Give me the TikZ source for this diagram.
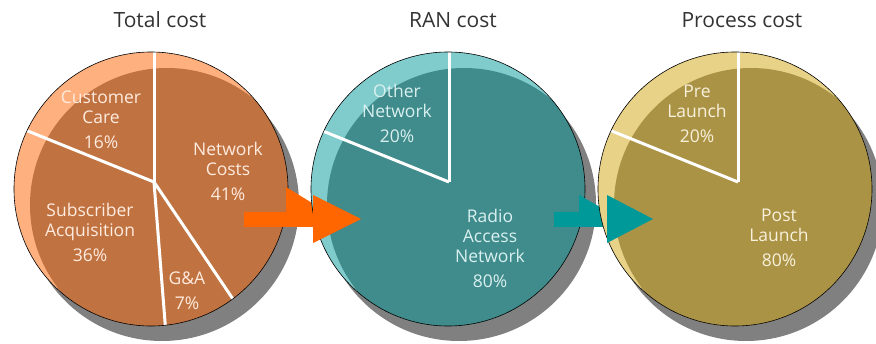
\documentclass[tikz,border=0pt]{standalone}
\usepackage{fontspec}
\setmainfont{Open Sans}
\usepackage{tikz}
\usetikzlibrary{calc}
\definecolor{totlight}{HTML}{FFB07F}
\definecolor{totdark}{HTML}{C07341}
\definecolor{ranlight}{HTML}{80CCCC}
\definecolor{randark}{HTML}{408B8B}
\definecolor{prclight}{HTML}{E8D288}
\definecolor{prcdark}{HTML}{AB9346}
\definecolor{shadc}{HTML}{808080}
\definecolor{orangec}{HTML}{FF6600}
\definecolor{tealc}{HTML}{009999}
\definecolor{titlec}{HTML}{333333}
\tikzset{
  spoke/.style={white,line width=3pt},
  rim/.style={draw=black,line width=0.6pt},
  ttl/.style={font=\fontsize{21}{24}\selectfont,text=titlec},
  lbl/.style={align=center,font=\fontsize{17.5}{20}\selectfont,inner sep=0pt}
}
% shadow, light rim, darker face; #1 centre, #2 light, #3 dark
\newcommand{\pieface}[3]{%
  \fill[shadc] ($(#1)+(11,-15)$) circle (137);
  \fill[#2] (#1) circle (137);
  \begin{scope}
    \clip (#1) circle (137);
    \fill[#3] ($(#1)+(16,-16)$) circle (137);
  \end{scope}
}

\begin{document}
\begin{tikzpicture}[x=1pt,y=1pt]
\useasboundingbox (0,0) rectangle (876,343);
\coordinate (tot) at (151,154);
\coordinate (ran) at (448,154);
\coordinate (prc) at (735,154);
\coordinate (totc) at (154,161);
\coordinate (ranc) at (449,161);
\coordinate (prcc) at (738,161);
% total cost
\pieface{tot}{totlight}{totdark}
\begin{scope}
  \clip (tot) circle (137);
  \draw[spoke] (totc) -- ++(90:200);
  \draw[spoke] (totc) -- ++(158:200);
  \draw[spoke] (totc) -- ++(-85.5:200);
  \draw[spoke] (totc) -- ++(-56:200);
\end{scope}
\draw[rim] (tot) circle (137);
\node[ttl] (tottitle) at (160,323) {Total cost};
\node[lbl,text=totlight!25!white] (care) at (101,223.5) {Customer\\Care\\[5pt]16\%};
\node[lbl,text=totlight!25!white] (netw) at (228,172) {Network\\Costs\\[5pt]41\%};
\node[lbl,text=totlight!25!white] (subs) at (90,110.5) {Subscriber\\Acquisition\\[5pt]36\%};
\node[lbl,text=totlight!25!white] (gna) at (187,52) {G\&A\\[5pt]7\%};
% first arrow
\fill[orangec] (244,131) -- (286,131) -- (286,156) -- (339,123.5) -- (339,116) -- (244,116) -- cycle;
% RAN cost
\pieface{ran}{ranlight}{randark}
\begin{scope}
  \clip (ran) circle (137);
  \draw[spoke] (ranc) -- ++(90:200);
  \draw[spoke] (ranc) -- ++(158:200);
\end{scope}
\draw[rim] (ran) circle (137);
\fill[orangec] (313,148) -- (361,124) -- (313,100) -- cycle;
\node[ttl] (rantitle) at (453,323) {RAN cost};
\node[lbl,text=ranlight!30!white] (other) at (397,229.5) {Other\\Network\\[5pt]20\%};
\node[lbl,text=ranlight!30!white] (radio) at (490,95) {Radio\\Access\\Network\\[5pt]80\%};
% second arrow
\fill[tealc] (554,131) -- (579,131) -- (579,148) -- (630,119) -- (630,116) -- (554,116) -- cycle;
% process cost
\pieface{prc}{prclight}{prcdark}
\begin{scope}
  \clip (prc) circle (137);
  \draw[spoke] (prcc) -- ++(90:200);
  \draw[spoke] (prcc) -- ++(158:200);
\end{scope}
\draw[rim] (prc) circle (137);
\fill[tealc] (607,148) -- (653,124) -- (607,100) -- cycle;
\node[ttl] (prctitle) at (742,323) {Process cost};
\node[lbl,text=prclight!30!white] (pre) at (697,229.5) {Pre\\Launch\\[5pt]20\%};
\node[lbl,text=prclight!30!white] (post) at (779,105) {Post\\Launch\\[5pt]80\%};
\end{tikzpicture}
\end{document}
